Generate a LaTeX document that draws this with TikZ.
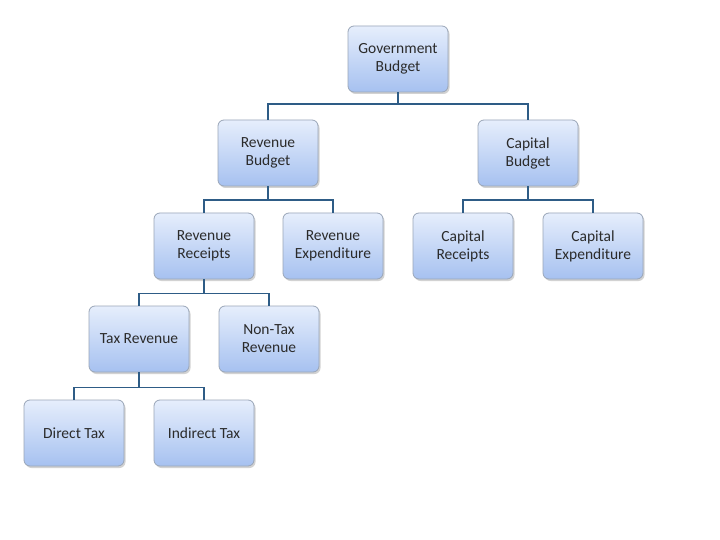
\documentclass[tikz,border=0pt]{standalone}
\usepackage{fontspec}
\setmainfont{Carlito}
\usetikzlibrary{shadows}
\definecolor{boxtop}{HTML}{E6EEFC}
\definecolor{boxbot}{HTML}{A6C1F0}
\definecolor{boxline}{HTML}{9AA6B8}
\definecolor{conn}{HTML}{2E5C86}
\definecolor{txt}{HTML}{2B2B2B}
\tikzset{
  box/.style={draw=boxline, line width=0.8pt, rounded corners=6pt,
    top color=boxtop, bottom color=boxbot,
    minimum width=100pt, minimum height=66pt, align=center,
    text=txt, font=\fontsize{15.5}{18}\selectfont, inner sep=2pt,
    drop shadow={opacity=0.35, shadow xshift=1.5pt, shadow yshift=-2pt}},
  link/.style={draw=conn, line width=1.8pt}
}
\begin{document}
\begin{tikzpicture}[x=1pt,y=-1pt]
\useasboundingbox[fill=white] (0,0) rectangle (720,540);
\node[box] (gb) at (398,59) {Government\\Budget};
\node[box] (rb) at (268,153) {Revenue\\Budget};
\node[box] (cb) at (528,153) {Capital\\Budget};
\node[box] (rr) at (204,246) {Revenue\\Receipts};
\node[box] (re) at (333,246) {Revenue\\Expenditure};
\node[box] (cr) at (463,246) {Capital\\Receipts};
\node[box] (ce) at (593,246) {Capital\\Expenditure};
\node[box] (tr) at (139,339) {Tax Revenue};
\node[box] (nt) at (269,339) {Non-Tax\\Revenue};
\node[box] (dt) at (74,433) {Direct Tax};
\node[box] (it) at (204,433) {Indirect Tax};
\draw[link] (gb.south) -- ++(0,12) -| (rb.north);
\draw[link] (gb.south) ++(0,12) -| (cb.north);
\draw[link] (rb.south) -- ++(0,14) -| (rr.north);
\draw[link] (rb.south) ++(0,14) -| (re.north);
\draw[link] (cb.south) -- ++(0,14) -| (cr.north);
\draw[link] (cb.south) ++(0,14) -| (ce.north);
\draw[link] (rr.south) -- ++(0,14) -| (tr.north);
\draw[link] (rr.south) ++(0,14) -| (nt.north);
\draw[link] (tr.south) -- ++(0,15) -| (dt.north);
\draw[link] (tr.south) ++(0,15) -| (it.north);
\end{tikzpicture}
\end{document}
